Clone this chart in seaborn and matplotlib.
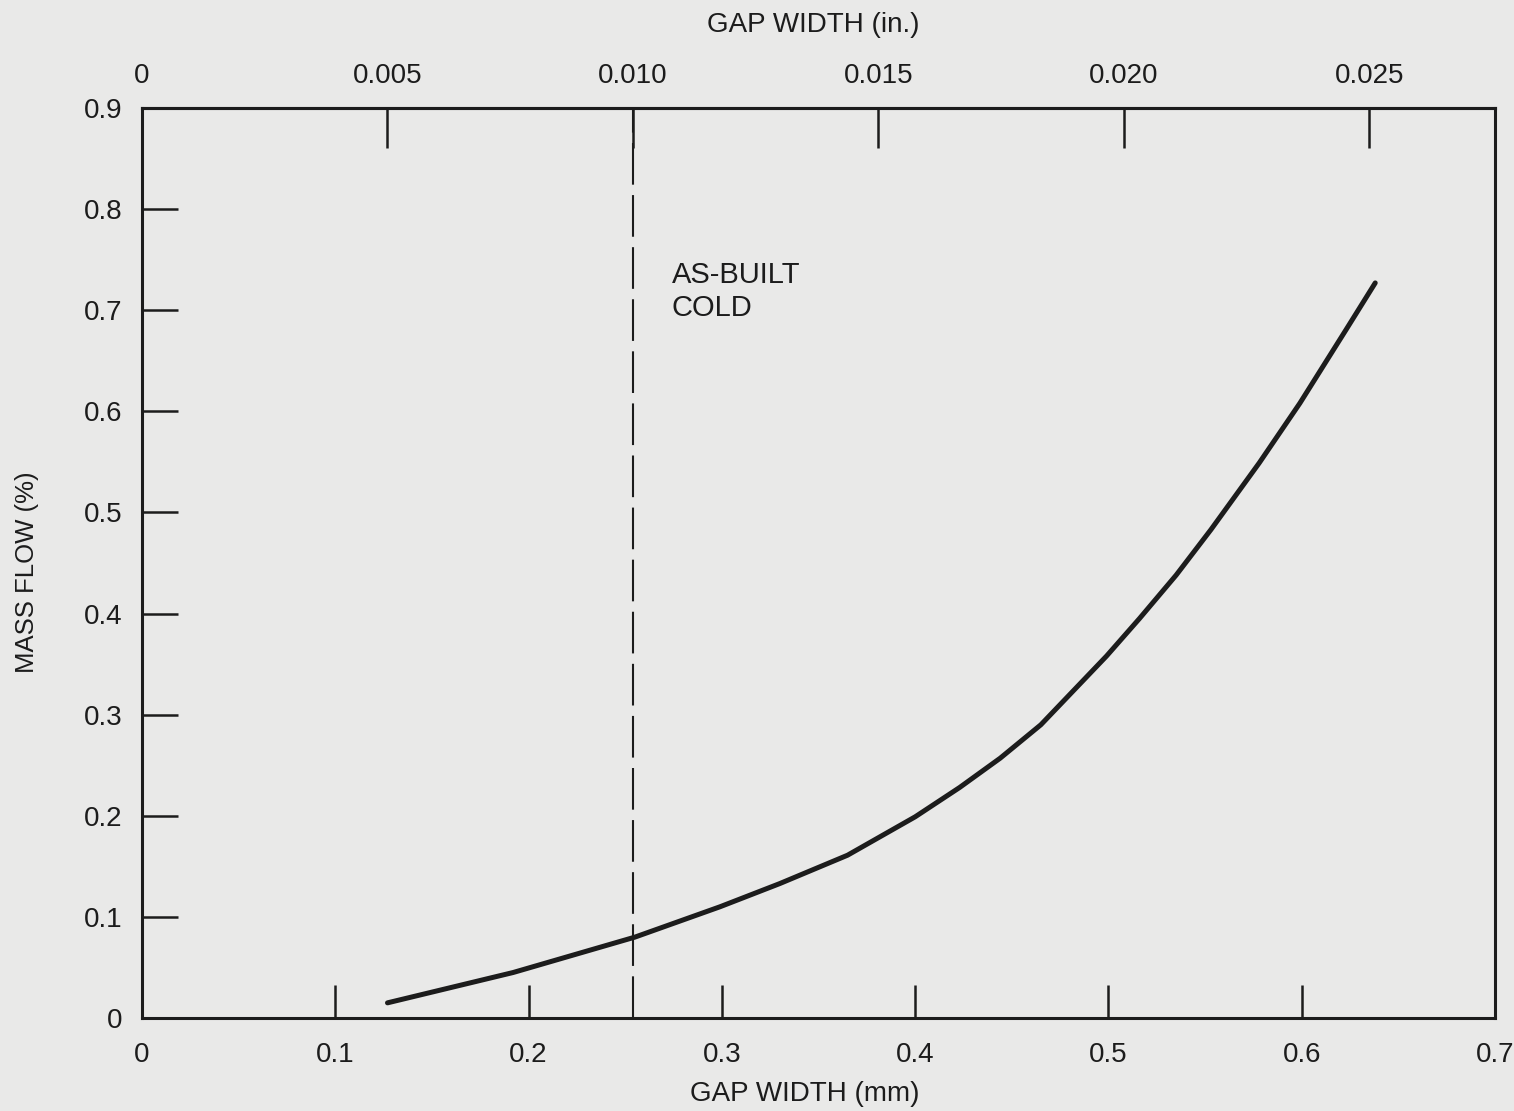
import matplotlib
matplotlib.use("Agg")
import matplotlib.pyplot as plt
import seaborn as sns
import pandas as pd

# ---- data ----
gap_mm = [0.127, 0.192, 0.255, 0.299, 0.330, 0.365, 0.400, 0.423, 0.444,
          0.465, 0.499, 0.516, 0.535, 0.553, 0.578, 0.599, 0.623, 0.638]
mass_flow = [0.015, 0.045, 0.080, 0.110, 0.133, 0.161, 0.199, 0.228, 0.257,
             0.290, 0.358, 0.395, 0.438, 0.483, 0.549, 0.608, 0.681, 0.727]
as_built_cold_mm = 0.254
mm_per_inch = 25.4
x_ticks_mm = [0, 0.1, 0.2, 0.3, 0.4, 0.5, 0.6, 0.7]
x_ticklabels_mm = ["0", "0.1", "0.2", "0.3", "0.4", "0.5", "0.6", "0.7"]
x_ticks_in = [0, 0.005, 0.010, 0.015, 0.020, 0.025]
x_ticklabels_in = ["0", "0.005", "0.010", "0.015", "0.020", "0.025"]
y_ticks = [0, 0.1, 0.2, 0.3, 0.4, 0.5, 0.6, 0.7, 0.8, 0.9]
y_ticklabels = ["0", "0.1", "0.2", "0.3", "0.4", "0.5", "0.6", "0.7", "0.8", "0.9"]

df = pd.DataFrame({"gap_mm": gap_mm, "flow": mass_flow})

bg = "#e9e9e8"
ink = "#1c1c1c"
sns.set_theme(style="ticks")
plt.rcParams["font.family"] = ["Liberation Sans", "DejaVu Sans"]

fig = plt.figure(figsize=(15.14, 11.11), dpi=100, facecolor=bg)
ax = fig.add_axes([0.0938, 0.0837, 0.8937, 0.8191])
ax.set_facecolor(bg)

sns.lineplot(data=df, x="gap_mm", y="flow", ax=ax, color=ink, linewidth=3.6,
             solid_joinstyle="round", solid_capstyle="round")
ax.axvline(as_built_cold_mm, color=ink, linewidth=1.5, dashes=(20, 5))
ax.text(0.274, 0.749, "AS-BUILT\nCOLD", fontsize=21, color=ink, va="top",
        ha="left", linespacing=1.22)

ax.set_xlim(0, 0.7)
ax.set_ylim(0, 0.9)
ax.set_xticks(x_ticks_mm)
ax.set_xticklabels(x_ticklabels_mm)
ax.set_yticks(y_ticks)
ax.set_yticklabels(y_ticklabels)
ax.tick_params(axis="both", direction="in", color=ink, labelcolor=ink,
               labelsize=20, width=1.8, pad=14)
ax.tick_params(axis="x", length=24, pad=17)
ax.tick_params(axis="y", length=26)
for s in ax.spines.values():
    s.set_visible(True)
    s.set_linewidth(2.2)
    s.set_color(ink)

ax.set_xlabel("GAP WIDTH (mm)", fontsize=20, color=ink)
ax.xaxis.set_label_coords(0.49, -0.069)
ax.xaxis.label.set_va("top")
ax.set_ylabel("MASS FLOW (%)", fontsize=18.5, color=ink)
ax.yaxis.set_label_coords(-0.076, 0.49)

secax = ax.secondary_xaxis("top", functions=(lambda v: v / mm_per_inch,
                                             lambda v: v * mm_per_inch))
secax.set_xticks(x_ticks_in)
secax.set_xticklabels(x_ticklabels_in)
secax.tick_params(direction="in", length=29, width=1.8, color=ink,
                  labelcolor=ink, labelsize=20, pad=14)
secax.spines["top"].set_linewidth(2.2)
secax.spines["top"].set_color(ink)
fig.text(813 / 1514, 1 - 25 / 1111, "GAP WIDTH (in.)", fontsize=20,
         color=ink, ha="center", va="center")

fig.savefig("out.png", dpi=100, facecolor=bg)
